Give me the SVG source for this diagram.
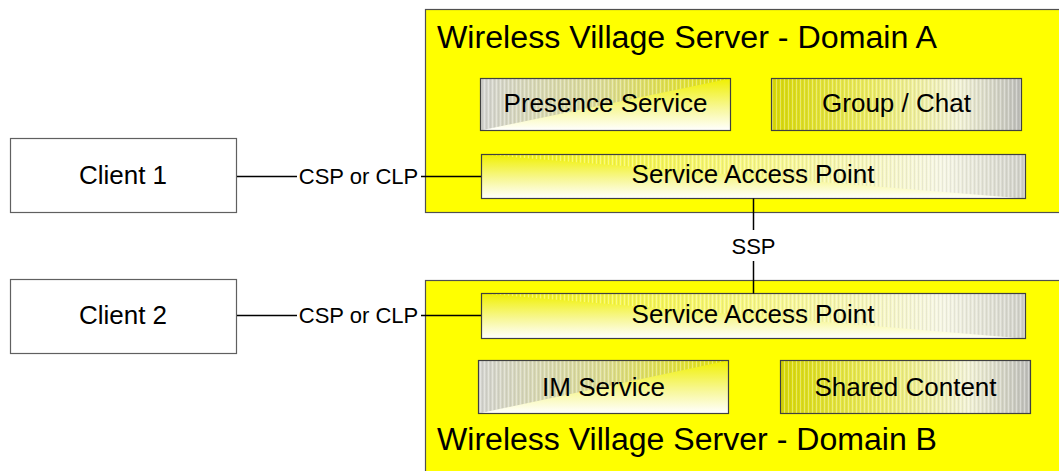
<svg xmlns="http://www.w3.org/2000/svg" width="1059" height="471" viewBox="0 0 1059 471">
<style>
text{font-family:"Liberation Sans",Arial,sans-serif;fill:#000}
.client{fill:#fff;stroke:#606060;stroke-width:1.2}
.domain{fill:#ffff00;stroke:#505050;stroke-width:1.2}
.edge{fill:none;stroke:#404040;stroke-width:1.2}
.title{font-size:31px}
.lbl{font-size:26px;text-anchor:middle}
.clbl{font-size:26px;text-anchor:middle}
.conn{stroke:#000;stroke-width:1.5;fill:none}
.clab{font-size:22px;text-anchor:middle}
.stripe{fill:url(#stripes)}
</style>
<defs>
<linearGradient id="diagTri" x1="0" y1="0" x2="1" y2="0">
<stop offset="0" stop-color="#d4d4d0"/>
<stop offset="0.5" stop-color="#dcdc90"/>
<stop offset="1" stop-color="#e4e400"/>
</linearGradient>
<linearGradient id="vBase" x1="0" y1="0" x2="0" y2="1">
<stop offset="0" stop-color="#f0f000"/>
<stop offset="0.6" stop-color="#f8f8a0"/>
<stop offset="1" stop-color="#ffffff"/>
</linearGradient>
<linearGradient id="hGC" x1="0" y1="0" x2="1" y2="0">
<stop offset="0" stop-color="#d8d800"/>
<stop offset="0.4" stop-color="#ecec60"/>
<stop offset="0.75" stop-color="#f2f2d4"/>
<stop offset="1" stop-color="#bcbcb8"/>
</linearGradient>
<linearGradient id="sapTri" x1="0" y1="0" x2="1" y2="0">
<stop offset="0" stop-color="#f4f400"/>
<stop offset="0.55" stop-color="#f8f890"/>
<stop offset="0.85" stop-color="#f6f6e4"/>
<stop offset="1" stop-color="#d0d0c8"/>
</linearGradient>
<pattern id="stripes" width="4" height="10" patternUnits="userSpaceOnUse">
<rect x="0" y="0" width="1" height="10" fill="#ffffff" fill-opacity="0.35"/>
<rect x="2" y="0" width="1" height="10" fill="#808080" fill-opacity="0.12"/>
</pattern>
</defs>

<g id="domainA">
<rect class="domain" x="425.5" y="9.5" width="640" height="203"/>
<text class="title" x="437" y="48" textLength="500" lengthAdjust="spacingAndGlyphs">Wireless Village Server - Domain A</text>
</g>
<g id="domainB">
<rect class="domain" x="425.5" y="280.5" width="640" height="200"/>
<text class="title" x="437" y="450" textLength="500" lengthAdjust="spacingAndGlyphs">Wireless Village Server - Domain B</text>
</g>

<g id="client1">
<rect class="client" x="10.5" y="138.5" width="226" height="74"/>
<text class="clbl" x="123" y="184">Client 1</text>
</g>
<g id="client2">
<rect class="client" x="10.5" y="279.5" width="226" height="74"/>
<text class="clbl" x="123" y="324">Client 2</text>
</g>

<g id="presence">
<rect x="480.5" y="78.5" width="250" height="52" fill="url(#vBase)"/>
<polygon points="480.5,130.5 480.5,78.5 730.5,78.5" fill="url(#diagTri)"/>
<polygon class="stripe" points="480.5,130.5 480.5,78.5 730.5,78.5"/>
<rect class="edge" x="480.5" y="78.5" width="250" height="52"/>
<text class="lbl" x="605.5" y="112">Presence Service</text>
</g>
<g id="groupchat">
<rect x="771.5" y="78.5" width="250" height="52" fill="url(#hGC)"/>
<rect class="stripe" x="771.5" y="78.5" width="250" height="52"/>
<rect class="edge" x="771.5" y="78.5" width="250" height="52"/>
<text class="lbl" x="896.5" y="112">Group / Chat</text>
</g>
<g id="sapA">
<rect x="481.5" y="154.5" width="544" height="44" fill="url(#vBase)"/>
<polygon points="481.5,154.5 1025.5,154.5 1025.5,198.5" fill="url(#sapTri)"/>
<polygon class="stripe" points="481.5,154.5 1025.5,154.5 1025.5,198.5"/>
<rect class="edge" x="481.5" y="154.5" width="544" height="44"/>
<text class="lbl" x="753" y="183">Service Access Point</text>
</g>
<g id="sapB">
<rect x="481.5" y="293.5" width="544" height="45" fill="url(#vBase)"/>
<polygon points="481.5,293.5 1025.5,293.5 1025.5,338.5" fill="url(#sapTri)"/>
<polygon class="stripe" points="481.5,293.5 1025.5,293.5 1025.5,338.5"/>
<rect class="edge" x="481.5" y="293.5" width="544" height="45"/>
<text class="lbl" x="753" y="323">Service Access Point</text>
</g>
<g id="im">
<rect x="478.5" y="360.5" width="250" height="53" fill="url(#vBase)"/>
<polygon points="478.5,413.5 478.5,360.5 728.5,360.5" fill="url(#diagTri)"/>
<polygon class="stripe" points="478.5,413.5 478.5,360.5 728.5,360.5"/>
<rect class="edge" x="478.5" y="360.5" width="250" height="53"/>
<text class="lbl" x="603.5" y="396">IM Service</text>
</g>
<g id="shared">
<rect x="780.5" y="360.5" width="250" height="53" fill="url(#hGC)"/>
<rect class="stripe" x="780.5" y="360.5" width="250" height="53"/>
<rect class="edge" x="780.5" y="360.5" width="250" height="53"/>
<text class="lbl" x="905.5" y="396">Shared Content</text>
</g>

<g id="connectors">
<line class="conn" x1="237" y1="176.5" x2="297" y2="176.5"/>
<line class="conn" x1="421" y1="176.5" x2="481" y2="176.5"/>
<text class="clab" x="358.5" y="184">CSP or CLP</text>
<line class="conn" x1="237" y1="315.5" x2="297" y2="315.5"/>
<line class="conn" x1="421" y1="315.5" x2="481" y2="315.5"/>
<text class="clab" x="358.5" y="323">CSP or CLP</text>
<line class="conn" x1="753.5" y1="198.5" x2="753.5" y2="230"/>
<line class="conn" x1="753.5" y1="261" x2="753.5" y2="293.5"/>
<text class="clab" x="753.5" y="254">SSP</text>
</g>
</svg>
